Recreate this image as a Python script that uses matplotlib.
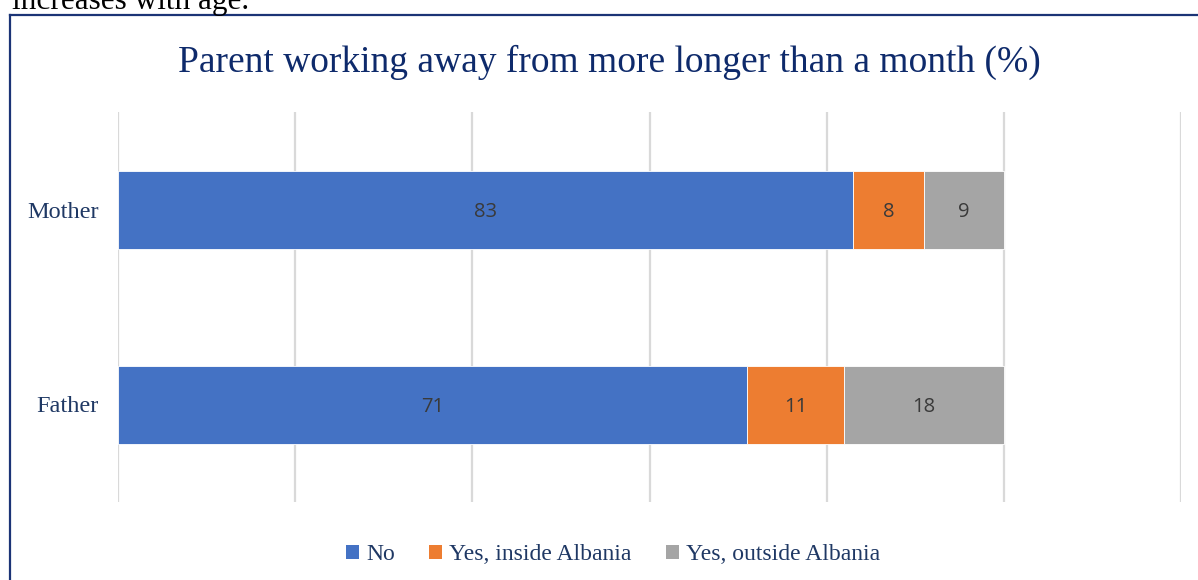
import numpy as np
import matplotlib.pyplot as plt
from matplotlib.lines import Line2D
from matplotlib.patches import Patch

parents = ["Mother", "Father"]
series = ["No", "Yes, inside Albania", "Yes, outside Albania"]
no_vals = [83, 71]
inside_vals = [8, 11]
outside_vals = [9, 18]
colors = ["#4472C4", "#ED7D31", "#A5A5A5"]

W, H = 1198, 580
fig = plt.figure(figsize=(W / 100, H / 100), dpi=100)
fig.patch.set_facecolor("white")

# leftover line of body text above the chart frame
fig.text(12 / W, 1 - 9 / H, "increases with age.", family="Liberation Serif",
         fontsize=22.5, color="black", ha="left", va="baseline")

# chart frame (only the left and top edges are in view)
navy = "#1B3476"
fig.add_artist(Line2D([10 / W, 10 / W], [0, 1 - 15 / H], transform=fig.transFigure,
                      color=navy, lw=1.6))
fig.add_artist(Line2D([10 / W, 1], [1 - 15 / H, 1 - 15 / H], transform=fig.transFigure,
                      color=navy, lw=1.6))

ax = fig.add_axes([118 / W, 1 - 502 / H, (1181 - 118) / W, (502 - 112) / H])
y = np.arange(len(parents))
left = np.zeros(len(parents))
for vals, c in zip([no_vals, inside_vals, outside_vals], colors):
    bars = ax.barh(y, vals, left=left, height=0.4, color=c, edgecolor="white",
                   linewidth=0.6, zorder=3)
    for b, v in zip(bars, vals):
        ax.text(b.get_x() + b.get_width() / 2, b.get_y() + b.get_height() / 2, str(v),
                ha="center", va="center_baseline", fontsize=14.5, color="#3A3A3A",
                family="Open Sans", zorder=4)
    left += np.array(vals)

ax.set_xlim(0, 120)
ax.set_ylim(-0.5, 1.5)
ax.invert_yaxis()
ax.set_xticks(np.arange(0, 121, 20))
ax.xaxis.grid(True, color="#D9D9D9", lw=1.6, zorder=0)
ax.tick_params(axis="x", length=0, labelbottom=False)
ax.tick_params(axis="y", length=0, pad=14)
ax.set_yticks(y)
ax.set_yticklabels(parents, family="Liberation Serif", fontsize=17.5, color="#1F3864")
for s in ax.spines.values():
    s.set_visible(False)

fig.text(609 / W, 1 - 62 / H, "Parent working away from more longer than a month (%)",
         family="Liberation Serif", fontsize=27, color="#0E2A6B", ha="center", va="center")

handles = [Patch(facecolor=c, edgecolor="none") for c in colors]
fig.legend(handles, series, loc="center", bbox_to_anchor=(613 / W, 1 - 555 / H), ncol=3,
           frameon=False, handlelength=0.55, handleheight=0.55, handletextpad=0.3,
           columnspacing=1.45, prop={"family": "Liberation Serif", "size": 17},
           labelcolor="#1F3864")

fig.savefig("out.png", dpi=100)
